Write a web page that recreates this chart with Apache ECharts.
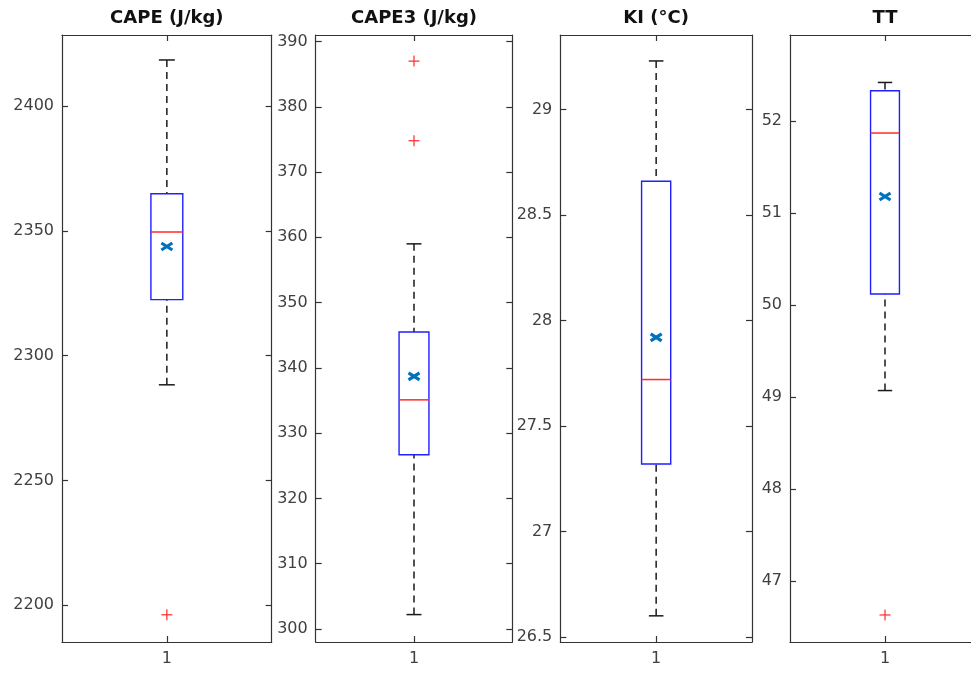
<!DOCTYPE html>
<html>
<head>
<meta charset="utf-8">
<script src="https://cdn.jsdelivr.net/npm/echarts@6/dist/echarts.min.js"></script>
<style>
  html, body { margin: 0; padding: 0; background: #ffffff; overflow: hidden; }
  #chart { width: 1000px; height: 673px; }
</style>
</head>
<body>
<div id="chart"></div>
<script>
// ---- data ----
const titles = ['CAPE (J/kg)', 'CAPE3 (J/kg)', 'KI (°C)', 'TT'];
const categories = ['1'];
const whiskerLow  = [2288.3, 302.2, 26.60, 49.07];
const quartile1   = [2322.4, 326.7, 27.32, 50.12];
const medians     = [2349.5, 335.1, 27.72, 51.87];
const quartile3   = [2364.8, 345.5, 28.66, 52.33];
const whiskerHigh = [2418.4, 359.0, 29.23, 52.42];
const means       = [2343.7, 338.7, 27.92, 51.18];
const outliers    = [[2196.2], [387.0, 374.8], [], [46.63]];
const axisMin     = [2185.3, 298.0, 26.476, 46.336];
const axisMax     = [2428.4, 391.0, 29.353, 52.936];
const tickValues  = [
  [2200, 2250, 2300, 2350, 2400],
  [300, 310, 320, 330, 340, 350, 360, 370, 380, 390],
  [26.5, 27, 27.5, 28, 28.5, 29],
  [47, 48, 49, 50, 51, 52]
];

// ---- layout / style ----
const gridRects = [
  { left: 62,    top: 35, width: 209.7, height: 607 },
  { left: 315.7, top: 35, width: 196.6, height: 607 },
  { left: 560.3, top: 35, width: 191.7, height: 607 },
  { left: 790,   top: 35, width: 190,   height: 607 }
];
const FONT = 'DejaVu Sans';
const AXIS_COLOR = '#333333';
const LABEL_COLOR = '#404040';
const BOX_FRAC = 0.152;

function renderBox(params, api) {
  const x = api.value(0);
  const pLw = api.coord([x, api.value(1)]);
  const pQ1 = api.coord([x, api.value(2)]);
  const pMd = api.coord([x, api.value(3)]);
  const pQ3 = api.coord([x, api.value(4)]);
  const pUw = api.coord([x, api.value(5)]);
  const pMn = api.coord([x, api.value(6)]);
  const band = api.size([1, 0])[0];
  const bw = band * BOX_FRAC;
  const cw = bw * 0.5;
  const cx = pMd[0];
  const dash = { stroke: '#1a1a1a', lineWidth: 1.5, lineDash: [7, 5] };
  const solid = { stroke: '#1a1a1a', lineWidth: 1.5 };
  return {
    type: 'group',
    children: [
      { type: 'line', shape: { x1: cx, y1: pUw[1], x2: cx, y2: pQ3[1] }, style: dash },
      { type: 'line', shape: { x1: cx, y1: pLw[1], x2: cx, y2: pQ1[1] }, style: dash },
      { type: 'line', shape: { x1: cx - cw / 2, y1: pUw[1], x2: cx + cw / 2, y2: pUw[1] }, style: solid },
      { type: 'line', shape: { x1: cx - cw / 2, y1: pLw[1], x2: cx + cw / 2, y2: pLw[1] }, style: solid },
      { type: 'rect', shape: { x: cx - bw / 2, y: pQ3[1], width: bw, height: pQ1[1] - pQ3[1] },
        style: { fill: 'none', stroke: '#1f1fff', lineWidth: 1.4 } },
      { type: 'line', shape: { x1: cx - bw / 2, y1: pMd[1], x2: cx + bw / 2, y2: pMd[1] },
        style: { stroke: '#ff2a2a', lineWidth: 1.5 } },
      { type: 'line', shape: { x1: pMn[0] - 5.5, y1: pMn[1] - 3.5, x2: pMn[0] + 5.5, y2: pMn[1] + 3.5 },
        style: { stroke: '#0072BD', lineWidth: 3.2 } },
      { type: 'line', shape: { x1: pMn[0] - 5.5, y1: pMn[1] + 3.5, x2: pMn[0] + 5.5, y2: pMn[1] - 3.5 },
        style: { stroke: '#0072BD', lineWidth: 3.2 } }
    ]
  };
}

function renderOutlier(params, api) {
  const p = api.coord([api.value(0), api.value(1)]);
  const h = 5.5;
  const st = { stroke: '#ff2a2a', lineWidth: 1.2 };
  return {
    type: 'group',
    children: [
      { type: 'line', shape: { x1: p[0] - h, y1: p[1], x2: p[0] + h, y2: p[1] }, style: st },
      { type: 'line', shape: { x1: p[0], y1: p[1] - h, x2: p[0], y2: p[1] + h }, style: st }
    ]
  };
}

const plainNumber = v => String(v);

const grid = [], xAxis = [], yAxis = [], series = [];
titles.forEach((t, i) => {
  grid.push(Object.assign({ containLabel: false }, gridRects[i]));
  const axLine = { show: true, onZero: false, lineStyle: { color: AXIS_COLOR, width: 1.2 } };
  const tick = { show: true, inside: true, length: 6, alignWithLabel: true, lineStyle: { color: AXIS_COLOR, width: 1.2 } };
  xAxis.push({
    type: 'category', gridIndex: i, position: 'bottom', data: categories,
    axisLine: axLine, axisTick: tick,
    axisLabel: { show: true, margin: 9, color: LABEL_COLOR, fontFamily: FONT, fontSize: 16 },
    splitLine: { show: false }
  });
  xAxis.push({
    type: 'category', gridIndex: i, position: 'top', data: categories,
    name: t, nameLocation: 'middle', nameGap: 8,
    nameTextStyle: { color: '#111111', fontFamily: FONT, fontWeight: 'bold', fontSize: 18 },
    axisLine: axLine, axisTick: tick, axisLabel: { show: false }, splitLine: { show: false }
  });
  yAxis.push({
    type: 'value', gridIndex: i, position: 'left', min: axisMin[i], max: axisMax[i],
    axisLine: axLine,
    axisTick: { show: true, inside: true, length: 6, customValues: tickValues[i], lineStyle: { color: AXIS_COLOR, width: 1.2 } },
    axisLabel: { show: true, margin: 8, customValues: tickValues[i], formatter: plainNumber,
                 color: LABEL_COLOR, fontFamily: FONT, fontSize: 16 },
    splitLine: { show: false }
  });
  yAxis.push({
    type: 'value', gridIndex: i, position: 'right', min: axisMin[i], max: axisMax[i],
    axisLine: axLine,
    axisTick: { show: true, inside: true, length: 6, customValues: tickValues[i], lineStyle: { color: AXIS_COLOR, width: 1.2 } },
    axisLabel: { show: false },
    splitLine: { show: false }
  });
  series.push({
    type: 'custom', name: t, xAxisIndex: 2 * i, yAxisIndex: 2 * i,
    renderItem: renderBox,
    encode: { x: 0, y: [1, 2, 3, 4, 5, 6] },
    data: [[0, whiskerLow[i], quartile1[i], medians[i], quartile3[i], whiskerHigh[i], means[i]]],
    silent: true, z: 3
  });
  series.push({
    type: 'custom', name: t + ' outliers', xAxisIndex: 2 * i, yAxisIndex: 2 * i,
    renderItem: renderOutlier,
    encode: { x: 0, y: 1 },
    data: outliers[i].map(v => [0, v]),
    silent: true, z: 4
  });
});

const chart = echarts.init(document.getElementById('chart'), null, { renderer: 'canvas' });
chart.setOption({
  backgroundColor: '#ffffff',
  animation: false,
  grid, xAxis, yAxis, series
});
</script>
</body>
</html>
